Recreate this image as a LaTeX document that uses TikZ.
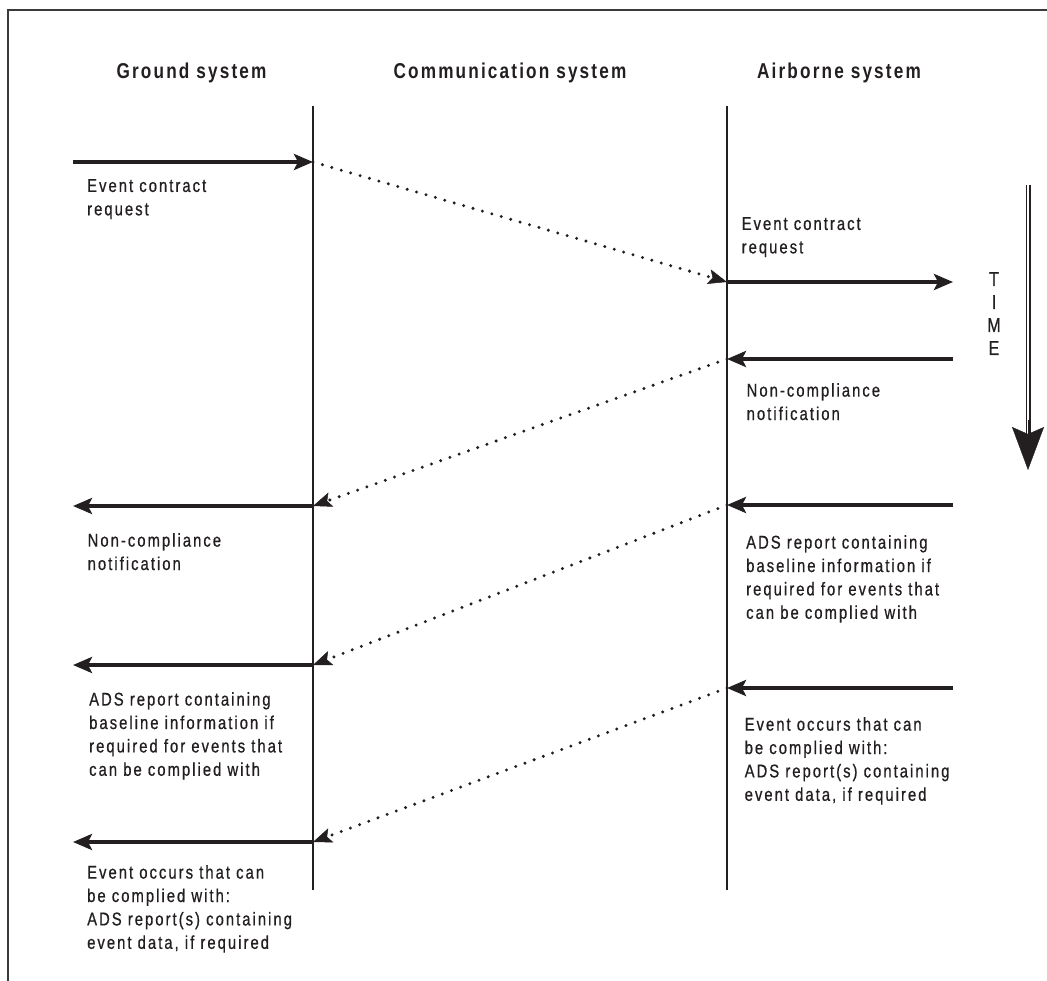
\documentclass[tikz,border=0pt]{standalone}
\usepackage{fontspec}
\setmainfont{Liberation Sans}[FakeStretch=0.8,LetterSpace=11,FakeBold=0.7]
\newfontfamily\headfont{Liberation Sans Bold}[FakeStretch=0.8,LetterSpace=10]
\usetikzlibrary{arrows.meta}
\definecolor{ink}{HTML}{231F20}
\definecolor{framegray}{HTML}{3A3A3A}
\begin{document}
\begin{tikzpicture}[x=1pt,y=-1pt,
  msg/.style={draw=ink, line width=3.5pt, -{Stealth[length=19pt,width=16pt,inset=4pt]}},
  relay/.style={draw=ink, line width=3.3pt, line cap=round, dash pattern=on 0pt off 9.8pt,
                -{Stealth[length=19pt,width=15pt,inset=4pt,line cap=butt,line width=0.5pt]}},
  lifeline/.style={draw=ink, line width=2pt},
  msglabel/.style={anchor=north west, inner sep=0pt, align=left, text=ink,
                   font=\fontsize{18.5}{23.4}\selectfont},
  heading/.style={anchor=base, inner sep=0pt, text=ink, font=\headfont\fontsize{21.5}{24}\selectfont}]
\useasboundingbox (0,0) rectangle (1047,981);

% open frame: left and top edges only
\coordinate (fb) at (8.3,981);
\coordinate (fc) at (8.3,10.5);
\coordinate (fr) at (1047,10.5);
\draw[framegray, line width=2pt] (fb) -- (fc) -- (fr);

% column headings
\node[heading] (hground) at (191.5,79) {Ground system};
\node[heading] (hcomm)   at (510,79)   {Communication system};
\node[heading] (hair)    at (839,79)   {Airborne system};

% lifelines
\coordinate (gtop) at (313,106);
\coordinate (gbot) at (313,890);
\coordinate (atop) at (727,106);
\coordinate (abot) at (727,890);
\draw[lifeline] (gtop) -- (gbot);
\draw[lifeline] (atop) -- (abot);

% points on the ground lifeline
\coordinate (g1) at (313,162);
\coordinate (g2) at (313,506);
\coordinate (g3) at (313,665);
\coordinate (g4) at (313,842);
% outer ends of the ground messages
\coordinate (gx1) at (73,162);
\coordinate (gx2) at (73,506);
\coordinate (gx3) at (73,665);
\coordinate (gx4) at (73,842);

% points on the airborne lifeline
\coordinate (a1) at (727,282);
\coordinate (a2) at (727,359);
\coordinate (a3) at (727,505);
\coordinate (a4) at (727,688);
% outer ends of the airborne messages
\coordinate (ax1) at (953,282);
\coordinate (ax2) at (953,359);
\coordinate (ax3) at (953,505);
\coordinate (ax4) at (953,688);

% ground system messages
\draw[msg] (gx1) -- (g1);
\draw[msg] (g2) -- (gx2);
\draw[msg] (g3) -- (gx3);
\draw[msg] (g4) -- (gx4);

% airborne system messages
\draw[msg] (a1) -- (ax1);
\draw[msg] (ax2) -- (a2);
\draw[msg] (ax3) -- (a3);
\draw[msg] (ax4) -- (a4);

% transfer through the communication system
\draw[relay] (g1) -- (a1);
\draw[relay] (a2) -- (g2);
\draw[relay] (a3) -- (g3);
\draw[relay] (a4) -- (g4);

% message texts, ground side
\node[msglabel] (lg1) at (87,179) {Event contract\\request};
\node[msglabel] (lg2) at (87.5,533) {Non-compliance\\notification};
\node[msglabel] (lg3) at (89,692) {ADS report containing\\baseline information if\\required for events that\\can be complied with};
\node[msglabel] (lg4) at (87,865) {Event occurs that can\\be complied with:\\ADS report(s) containing\\event data, if required};

% message texts, airborne side
\node[msglabel] (la1) at (741.5,217) {Event contract\\request};
\node[msglabel] (la2) at (746.5,383) {Non-compliance\\notification};
\node[msglabel] (la3) at (746,535) {ADS report containing\\baseline information if\\required for events that\\can be complied with};
\node[msglabel] (la4) at (744.5,717) {Event occurs that can\\be complied with:\\ADS report(s) containing\\event data, if required};

% time axis
\node[anchor=north, inner sep=0pt, align=center, text=ink,
      font=\fontsize{20}{23}\selectfont] (time) at (994,272) {T\\I\\M\\E};
\coordinate (ttop) at (1028,185);
\coordinate (tmid) at (1028,440);
\coordinate (tneck) at (1028,420);
\coordinate (ttip) at (1028,470);
\draw[draw=ink, line width=1.7pt, double=white, double distance=1.6pt] (ttop) -- (tmid);
\draw[draw=ink, line width=0.4pt, -{Stealth[length=43pt,width=32pt,inset=7pt]}] (tneck) -- (ttip);
\end{tikzpicture}
\end{document}
